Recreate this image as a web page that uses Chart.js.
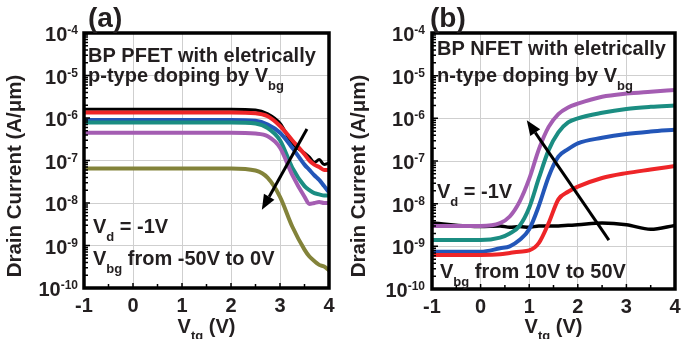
<!DOCTYPE html>
<html>
<head>
<meta charset="utf-8">
<script src="https://cdn.jsdelivr.net/npm/chart.js@4"></script>
<style>
html, body { margin: 0; padding: 0; background: #fff; }
#wrap { position: relative; width: 684px; height: 339px; }
canvas { position: absolute; top: 0; }
</style>
</head>
<body>
<div id="wrap">
  <canvas id="chartA" width="342" height="339" style="left:0"></canvas>
  <canvas id="chartB" width="342" height="339" style="left:342px"></canvas>
</div>
<script>
// panel (a): BP PFET, Vbg from -50V to 0V
const vtgA = [-1, 0, 1, 2, 2.5, 2.75, 3, 3.25, 3.5, 3.6, 3.7, 3.8, 3.9, 4];
const pBlack  = [1.6e-6, 1.6e-6, 1.6e-6, 1.6e-6, 1.55e-6, 1.25e-6, 7.5e-7, 2.5e-7, 1.5e-7, 1.2e-7, 9e-8, 1.05e-7, 8e-8, 8.7e-8];
const pRed    = [1.35e-6, 1.35e-6, 1.35e-6, 1.35e-6, 1.3e-6, 1.1e-6, 6.5e-7, 3.0e-7, 1.4e-7, 1.0e-7, 8e-8, 7e-8, 6e-8, 6e-8];
const pBlue   = [9e-7, 9e-7, 9e-7, 9e-7, 8.6e-7, 7e-7, 4.5e-7, 2e-7, 8e-8, 6e-8, 4.5e-8, 3.5e-8, 2.5e-8, 1.8e-8];
const pTeal   = [7.8e-7, 7.8e-7, 7.8e-7, 7.8e-7, 7.4e-7, 5.8e-7, 3.0e-7, 6.8e-8, 2.5e-8, 2e-8, 1.7e-8, 1.6e-8, 1.5e-8, 1.5e-8];
const pPurple = [4.5e-7, 4.5e-7, 4.5e-7, 4.5e-7, 4.3e-7, 3.7e-7, 2e-7, 4.6e-8, 1.4e-8, 9.5e-9, 1.0e-8, 1.05e-8, 1.0e-8, 1.0e-8];
const pOlive  = [6.5e-8, 6.5e-8, 6.5e-8, 6.5e-8, 5.8e-8, 3.9e-8, 1.4e-8, 2.8e-9, 8e-10, 5.5e-10, 4.3e-10, 3.5e-10, 3.2e-10, 2.6e-10];
const arrowA = [[3.55, 5.5e-7], [2.63, 6.9e-9]];

// panel (b): BP NFET, Vbg from 10V to 50V
const vtgB = [-1, 0, 0.4, 0.6, 0.8, 1.0, 1.2, 1.4, 1.6, 1.8, 2.0, 2.5, 3, 3.5, 4];
const nBlack  = [3.5e-9, 2.9e-9, 3e-9, 2.8e-9, 2.9e-9, 2.8e-9, 3e-9, 3e-9, 3e-9, 3.1e-9, 3.2e-9, 3.5e-9, 3.2e-9, 2.5e-9, 3.1e-9];
const nRed    = [6.3e-10, 6.3e-10, 6.5e-10, 7e-10, 7.5e-10, 8e-10, 1.2e-9, 3.5e-9, 1.26e-8, 1.9e-8, 2.5e-8, 4e-8, 5.2e-8, 6.3e-8, 7.6e-8];
const nBlue   = [7.5e-10, 7.5e-10, 9e-10, 1e-9, 1.4e-9, 2.5e-9, 9e-9, 4.3e-8, 1.26e-7, 1.9e-7, 2.6e-7, 3.5e-7, 4.3e-7, 4.9e-7, 5.4e-7];
const nTeal   = [1.4e-9, 1.4e-9, 1.6e-9, 2e-9, 3e-9, 8e-9, 4e-8, 1.8e-7, 4.7e-7, 8e-7, 1e-6, 1.35e-6, 1.66e-6, 1.86e-6, 2e-6];
const nPurple = [3e-9, 3e-9, 3.5e-9, 5e-9, 1.1e-8, 3.8e-8, 1.9e-7, 6.3e-7, 1.26e-6, 1.8e-6, 2.2e-6, 3.2e-6, 3.8e-6, 4.2e-6, 4.6e-6];
const arrowB = [[2.64, 1.4e-9], [0.95, 9e-7]];

const decades = [1e-10, 1e-9, 1e-8, 1e-7, 1e-6, 1e-5, 1e-4];
const xTicks = [-1, 0, 1, 2, 3, 4];

const FONT = '"Liberation Sans", Arial, sans-serif';
const INK = '#231f20';

function runs(ctx, x, y, parts, align) {
    let w = 0;
    parts.forEach(p => { ctx.font = 'bold ' + p[1] + 'px ' + FONT; w += ctx.measureText(p[0]).width; });
    let cx = align === 'right' ? x - w : (align === 'center' ? x - w / 2 : x);
    parts.forEach(p => {
        ctx.font = 'bold ' + p[1] + 'px ' + FONT;
        ctx.fillText(p[0], cx, y + (p[2] || 0));
        cx += ctx.measureText(p[0]).width;
    });
    return w;
}

function decorPlugin(cfg) {
    return {
        id: 'decor',
        afterDraw(chart) {
            const ctx = chart.ctx;
            const a = chart.chartArea;
            const xs = chart.scales.x, ys = chart.scales.y;
            ctx.save();
            ctx.fillStyle = INK;
            ctx.strokeStyle = '#000';
            ctx.textBaseline = 'alphabetic';

            // minor ticks on the left edge
            ctx.lineWidth = 1.5;
            ctx.beginPath();
            for (let e = -10; e < -4; e++) {
                for (let m = 1; m <= 9; m++) {
                    const py = ys.getPixelForValue(m * Math.pow(10, e));
                    const len = m === 1 ? 6 : 4;
                    ctx.moveTo(a.left, py); ctx.lineTo(a.left + len, py);
                }
            }
            // ticks on the bottom edge
            for (let v = -1; v <= 4; v += 0.5) {
                const px = xs.getPixelForValue(v);
                ctx.moveTo(px, a.bottom); ctx.lineTo(px, a.bottom - (Number.isInteger(v) ? 5 : 4));
            }
            ctx.stroke();

            // frame
            ctx.lineWidth = 3.5;
            ctx.strokeRect(a.left, a.top, a.right - a.left, a.bottom - a.top);

            // y tick labels
            decades.forEach(v => {
                const py = ys.getPixelForValue(v);
                const e = String(Math.round(Math.log10(v)));
                ctx.font = 'bold 12px ' + FONT;
                const ws = ctx.measureText(e).width;
                runs(ctx, a.left - cfg.gap - ws, py + 8, [['10', 20]], 'right');
                runs(ctx, a.left - cfg.gap, py + 1, [[e, 12]], 'right');
            });
            // x tick labels
            xTicks.forEach(v => {
                runs(ctx, xs.getPixelForValue(v), a.bottom + 24, [[String(v), 20]], 'center');
            });
            // axis titles
            runs(ctx, (a.left + a.right) / 2, 333, [['V', 20], ['tg', 13, 7], [' (V)', 20]], 'center');
            ctx.save();
            ctx.translate(cfg.yTitleX, 176);
            ctx.rotate(-Math.PI / 2);
            runs(ctx, 0, 0, [['Drain Current (A/\u03bcm)', 20.5]], 'center');
            ctx.restore();

            // panel label
            runs(ctx, cfg.labelX, 27, [[cfg.label, 28]], 'left');

            // annotations
            cfg.notes.forEach(n => runs(ctx, n.x, n.y, n.parts, 'left'));

            // arrow
            const x0 = xs.getPixelForValue(cfg.arrow[0][0]), y0 = ys.getPixelForValue(cfg.arrow[0][1]);
            const x1 = xs.getPixelForValue(cfg.arrow[1][0]), y1 = ys.getPixelForValue(cfg.arrow[1][1]);
            const ang = Math.atan2(y1 - y0, x1 - x0);
            const hl = 15, hw = 6;
            const bx = x1 - hl * Math.cos(ang), by = y1 - hl * Math.sin(ang);
            ctx.lineWidth = 3;
            ctx.beginPath();
            ctx.moveTo(x0, y0); ctx.lineTo(bx, by);
            ctx.stroke();
            ctx.fillStyle = '#000';
            ctx.beginPath();
            ctx.moveTo(x1, y1);
            ctx.lineTo(bx + hw * Math.sin(ang), by - hw * Math.cos(ang));
            ctx.lineTo(bx - hw * Math.sin(ang), by + hw * Math.cos(ang));
            ctx.closePath();
            ctx.fill();
            ctx.restore();
        }
    };
}

function makeChart(id, xs, series, cfg) {
    return new Chart(document.getElementById(id), {
        type: 'line',
        data: {
            datasets: series.map(s => ({
                data: xs.map((x, i) => ({ x: x, y: s[0][i] })),
                borderColor: s[1],
                borderWidth: s[2],
                pointRadius: 0,
                cubicInterpolationMode: 'monotone',
                fill: false
            }))
        },
        options: {
            responsive: false,
            animation: false,
            devicePixelRatio: 1,
            layout: { padding: { left: 0, right: cfg.right, top: 33, bottom: 0 } },
            plugins: { legend: { display: false }, tooltip: { enabled: false } },
            scales: {
                x: {
                    type: 'linear', min: -1, max: 4,
                    ticks: { display: false, stepSize: 1 },
                    grid: { color: '#cfcfcf', drawTicks: false },
                    border: { display: false },
                    afterFit: s => { s.height = cfg.xh; }
                },
                y: {
                    type: 'logarithmic', min: 1e-10, max: 1e-4,
                    ticks: { display: false },
                    afterBuildTicks: s => { s.ticks = decades.map(v => ({ value: v })); },
                    grid: { color: '#cfcfcf', drawTicks: false },
                    border: { display: false },
                    afterFit: s => { s.width = cfg.yw; }
                }
            }
        },
        plugins: [decorPlugin(cfg)]
    });
}

makeChart('chartA', vtgA, [
    [pOlive, '#83833a', 4],
    [pPurple, '#a45db2', 4],
    [pTeal, '#1b8d82', 4],
    [pBlue, '#2356b8', 4],
    [pRed, '#ee2528', 4],
    [pBlack, '#000000', 3]
], {
    right: 13, xh: 51, yw: 84, gap: 6, yTitleX: 21, label: '(a)', labelX: 88,
    arrow: arrowA,
    notes: [
        { x: 88, y: 62, parts: [['BP PFET with eletrically', 20]] },
        { x: 88, y: 82, parts: [['p-type doping by V', 20], ['bg', 13, 8]] },
        { x: 93, y: 233, parts: [['V', 20], ['d', 13, 8], [' = -1V', 20]] },
        { x: 93, y: 265, parts: [['V', 20], ['bg', 13, 8], [' from -50V to 0V', 20]] }
    ]
});

makeChart('chartB', vtgB, [
    [nRed, '#ee2528', 4],
    [nBlue, '#2356b8', 4],
    [nTeal, '#1b8d82', 4],
    [nPurple, '#a45db2', 4],
    [nBlack, '#000000', 3.5]
], {
    right: 9, xh: 50, yw: 90, gap: 7, yTitleX: 23, label: '(b)', labelX: 88,
    arrow: arrowB,
    notes: [
        { x: 95, y: 55, parts: [['BP NFET with eletrically', 20]] },
        { x: 95, y: 82, parts: [['n-type doping by V', 20], ['bg', 13, 8]] },
        { x: 95, y: 198, parts: [['V', 20], ['d', 13, 8], [' = -1V', 20]] },
        { x: 98, y: 278, parts: [['V', 20], ['bg', 13, 8], [' from 10V to 50V', 20]] }
    ]
});
</script>
</body>
</html>
